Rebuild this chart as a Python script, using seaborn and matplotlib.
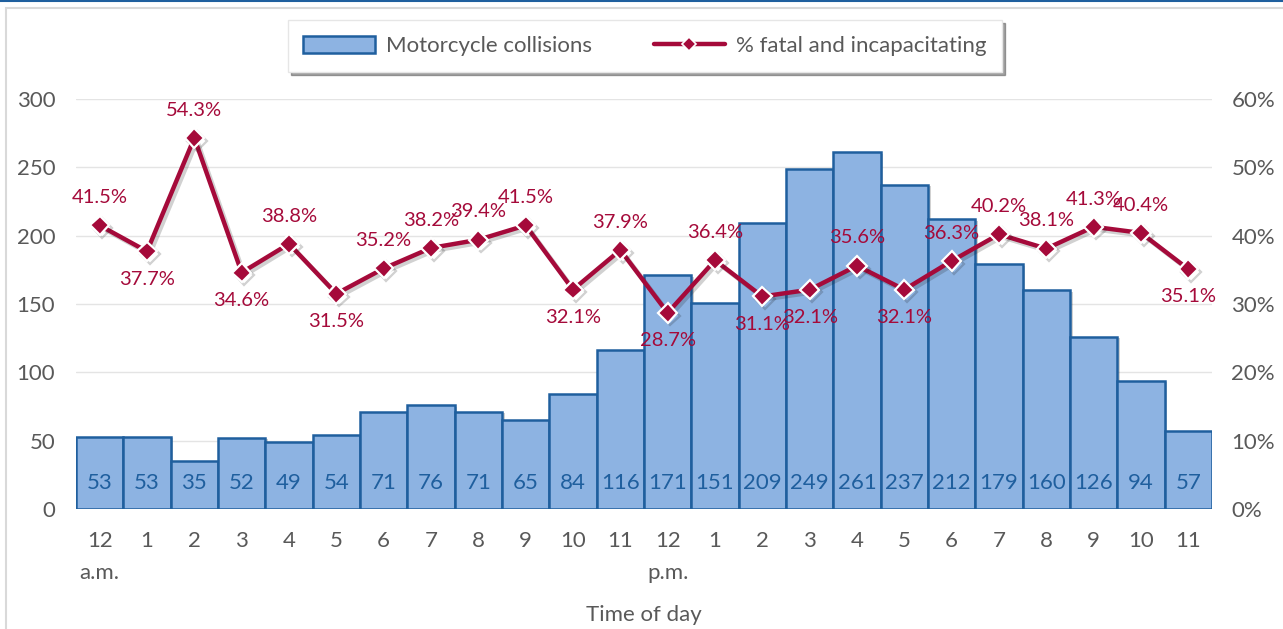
import matplotlib
matplotlib.use("Agg")
import matplotlib.pyplot as plt
import matplotlib.patheffects as pe
from matplotlib.patches import Patch, Rectangle
from matplotlib.lines import Line2D
from matplotlib.ticker import FuncFormatter
import seaborn as sns
import pandas as pd

# Hourly motorcycle collisions and share that were fatal/incapacitating
hour_labels = ["12\na.m.", "1", "2", "3", "4", "5", "6", "7", "8", "9", "10", "11",
               "12\np.m.", "1", "2", "3", "4", "5", "6", "7", "8", "9", "10", "11"]
collisions = [53, 53, 35, 52, 49, 54, 71, 76, 71, 65, 84, 116,
              171, 151, 209, 249, 261, 237, 212, 179, 160, 126, 94, 57]
pct_fatal = [41.5, 37.7, 54.3, 34.6, 38.8, 31.5, 35.2, 38.2, 39.4, 41.5, 32.1, 37.9,
             28.7, 36.4, 31.1, 32.1, 35.6, 32.1, 36.3, 40.2, 38.1, 41.3, 40.4, 35.1]
label_above = [True, False, True, False, True, False, True, True, True, True, False, True,
               False, True, False, False, True, False, True, True, True, True, True, False]

BAR_FILL = "#8DB3E2"
BAR_EDGE = "#1F5F9E"
LINE_RED = "#A50A3A"
TEXT_GRAY = "#595959"
GRID = "#E4E4E4"

sns.set_theme(style="white")
plt.rcParams["font.family"] = ["Lato", "DejaVu Sans"]
FS = 16
FS_PCT = 14.5

df = pd.DataFrame({"idx": range(len(collisions)), "collisions": collisions, "pct": pct_fatal})

fig = plt.figure(figsize=(12.83, 6.29), dpi=100)
ax = fig.add_axes([76 / 1283, 1 - 509 / 629, (1212 - 76) / 1283, (509 - 99) / 629])

# frame around the chart area
fig.add_artist(Rectangle((6 / 1283, -0.1), 1.2, 1 - 8 / 629 + 0.1, transform=fig.transFigure,
                         fill=False, edgecolor="#D9D9D9", linewidth=1.5, zorder=0))
fig.add_artist(Line2D([0, 1], [1 - 1 / 629, 1 - 1 / 629], transform=fig.transFigure,
                      color="#1F5F9E", linewidth=1.5))

for y in range(50, 301, 50):
    ax.axhline(y, color=GRID, linewidth=1, zorder=0)
ax.axhline(0, color="#BFCFE0", linewidth=1.2, zorder=0)

sns.barplot(data=df, x="idx", y="collisions", ax=ax, color=BAR_FILL, width=1.0,
            edgecolor=BAR_EDGE, linewidth=1.8, saturation=1, zorder=2)
for p in ax.patches:
    p.set_path_effects([pe.SimplePatchShadow(offset=(2, -1), alpha=0.2, shadow_rgbFace="k"),
                        pe.Normal()])

for i, v in enumerate(collisions):
    ax.annotate(f"{v}", (i, 0), xytext=(0, 19), textcoords="offset points",
                ha="center", va="center", fontsize=FS, color=BAR_EDGE, zorder=5)

ax.set_xlim(-0.5, len(collisions) - 0.5)
ax.set_ylim(0, 300)
ax.set_yticks(range(0, 301, 50))
ax.set_xticks(range(len(hour_labels)))
ax.set_xticklabels(hour_labels, fontsize=FS, color=TEXT_GRAY, linespacing=1.75, va="top")
ax.tick_params(axis="x", length=0, pad=16)
ax.tick_params(axis="y", length=0, pad=15, labelsize=FS, labelcolor=TEXT_GRAY)
ax.set_xlabel("")
ax.set_ylabel("")
for s in ax.spines.values():
    s.set_visible(False)
fig.text(644 / 1283, 1 - 615 / 629, "Time of day", ha="center", va="center",
         fontsize=FS, color=TEXT_GRAY)

ax2 = ax.twinx()
sns.lineplot(data=df, x="idx", y="pct", ax=ax2, color=LINE_RED, linewidth=3.2,
             marker="D", markersize=10, markerfacecolor=LINE_RED,
             markeredgecolor="white", markeredgewidth=1.6, zorder=4,
             path_effects=[pe.SimpleLineShadow(offset=(2, -2), alpha=0.2), pe.Normal()])
for i, v in enumerate(pct_fatal):
    dy = 20 if label_above[i] else -20
    ax2.annotate(f"{v:.1f}%", (i, v), xytext=(0, dy), textcoords="offset points",
                 ha="center", va="center", fontsize=FS_PCT, color=LINE_RED, zorder=6)

ax2.set_ylim(0, 60)
ax2.set_yticks(range(0, 61, 10))
ax2.yaxis.set_major_formatter(FuncFormatter(lambda v, _: f"{v:.0f}%"))
ax2.tick_params(axis="y", length=0, pad=14, labelsize=FS, labelcolor=TEXT_GRAY)
ax2.set_ylabel("")
ax2.set_xlim(-0.5, len(collisions) - 0.5)
ax2.grid(False)
for s in ax2.spines.values():
    s.set_visible(False)

handles = [Patch(facecolor=BAR_FILL, edgecolor=BAR_EDGE, linewidth=1.8),
           Line2D([], [], color=LINE_RED, linewidth=3.2, marker="D", markersize=7,
                  markerfacecolor=LINE_RED, markeredgecolor="white", markeredgewidth=1.2)]
leg = fig.legend(handles, ["Motorcycle collisions", "% fatal and incapacitating"],
                 loc="center", bbox_to_anchor=(645 / 1283, 1 - 46 / 629), ncol=2,
                 fontsize=FS, frameon=True, fancybox=False, shadow=True,
                 handlelength=3.2, handleheight=0.85, columnspacing=2.8,
                 borderpad=0.7, borderaxespad=0, handletextpad=0.5)
leg.get_frame().set_edgecolor("#E6E6E6")
leg.get_frame().set_linewidth(1)
for t in leg.get_texts():
    t.set_color(TEXT_GRAY)

fig.savefig("out.png", dpi=100)
